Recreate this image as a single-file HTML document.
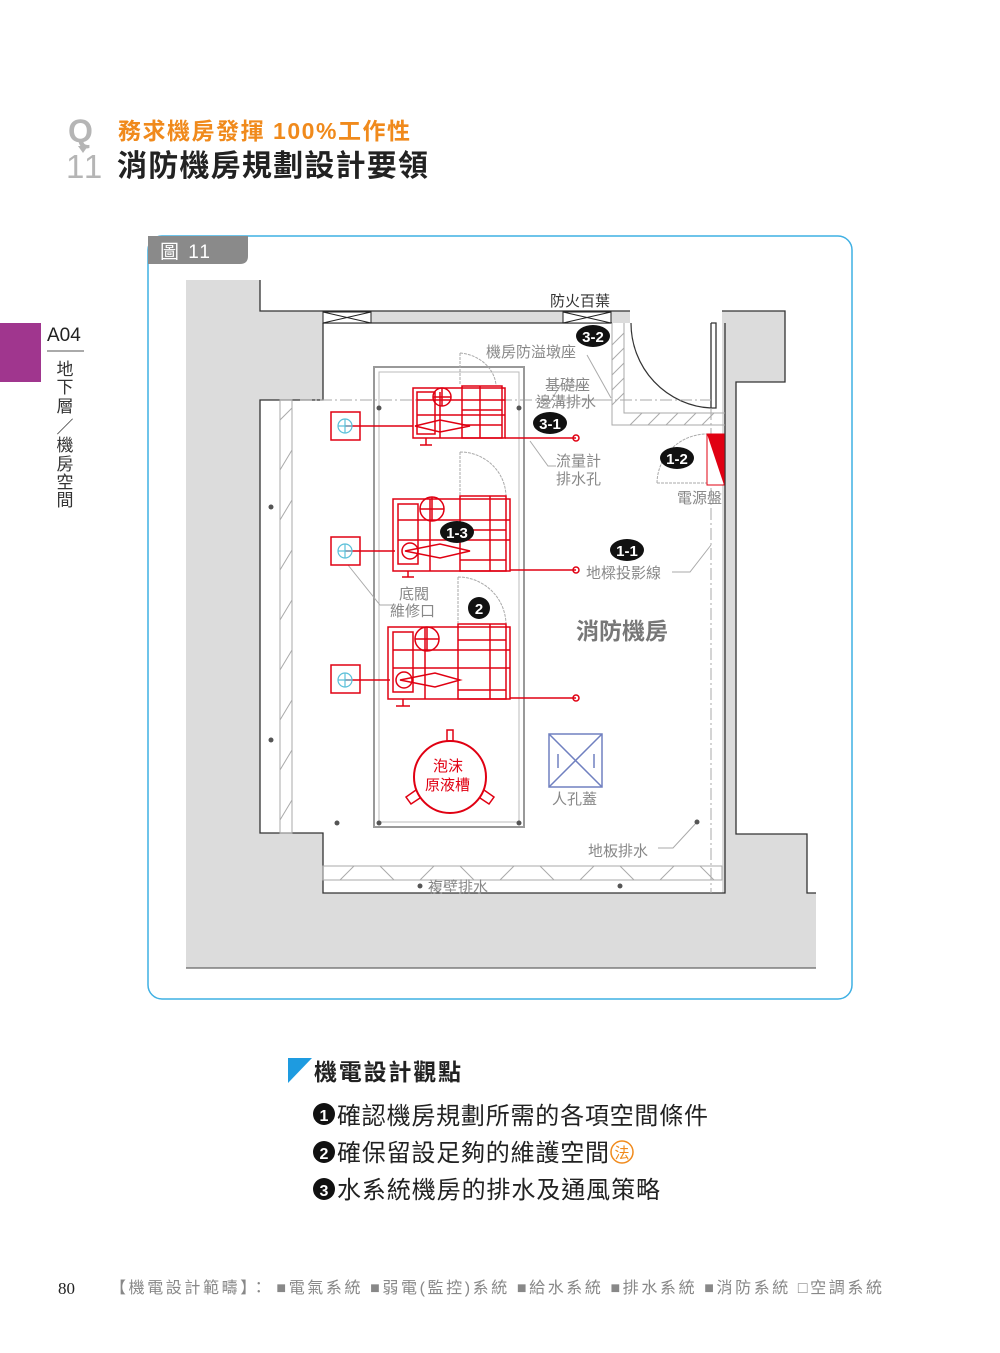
<!DOCTYPE html>
<html><head><meta charset="utf-8"><style>
body{margin:0;background:#fff;}
svg{display:block;font-family:"Liberation Sans","Noto Sans CJK TC",sans-serif;}
</style></head><body>
<svg width="1000" height="1353" viewBox="0 0 1000 1353" xmlns="http://www.w3.org/2000/svg">
<!-- header -->
<text x="68" y="142" font-size="32" font-weight="bold" fill="#b5b5b5">Q</text>
<polygon points="78,146 88,146 83,153" fill="#b5b5b5"/>
<text x="66" y="178" font-size="33" fill="#b5b5b5" letter-spacing="2">11</text>
<text x="118" y="139" font-size="23" font-weight="bold" fill="#f08a1c" textLength="292" lengthAdjust="spacing">務求機房發揮 100%工作性</text>
<text x="117" y="176" font-size="30" font-weight="bold" fill="#222" textLength="311" lengthAdjust="spacing">消防機房規劃設計要領</text>
<!-- side tab -->
<rect x="0" y="323" width="41" height="59" fill="#a0368e"/>
<text x="47" y="341" font-size="19" fill="#222">A04</text>
<line x1="47" y1="351" x2="84" y2="351" stroke="#555" stroke-width="1"/>
<g font-size="17" fill="#333" text-anchor="middle">
<text x="65" y="375">地</text><text x="65" y="393">下</text><text x="65" y="412">層</text>
<text x="65" y="433">／</text><text x="65" y="451">機</text><text x="65" y="470">房</text>
<text x="65" y="488">空</text><text x="65" y="506">間</text>
</g>
<!-- frame -->
<rect x="148" y="236" width="704" height="763" rx="14" fill="none" stroke="#3fb0e3" stroke-width="1.5"/>
<path d="M148,236 H248 V256 Q248,264 240,264 H148 Z" fill="#8a8a8a"/>
<text x="160" y="258" font-size="19" fill="#fff" letter-spacing="2">圖 11</text>
<!-- plan background -->
<rect x="186" y="280" width="630" height="688" fill="#dcdcdc"/>
<rect x="260" y="280" width="556" height="31" fill="#fff"/>
<rect x="785" y="311" width="31" height="71" fill="#fff"/>
<rect x="736" y="382" width="80" height="452" fill="#fff"/>
<rect x="807" y="834" width="9" height="59" fill="#fff"/>
<polygon points="323,323 722,323 722,893 323,893 323,833 260,833 260,400 323,400" fill="#fff"/>
<rect x="630" y="311" width="92" height="12" fill="#fff"/>
<!-- wall outlines -->
<g fill="none" stroke="#333" stroke-width="1.3">
<polyline points="260,280 260,311 630,311"/>
<polyline points="323,323 323,400 260,400 260,833 323,833 323,893 725,893 725,323"/>
<line x1="323" y1="323" x2="612" y2="323"/>
<polyline points="722,311 785,311 785,382 736,382 736,834 807,834 807,893 816,893"/>
<line x1="186" y1="968" x2="816" y2="968" stroke="#666"/>
<polyline points="711,323 711,408 716,408 716,323 711,323"/>
</g>
<!-- louvers -->
<g stroke="#222" stroke-width="1" fill="#fff">
<rect x="323" y="312" width="48" height="11"/><path d="M323,312 L371,323 M323,323 L371,312"/>
<rect x="563" y="312" width="48" height="11"/><path d="M563,312 L611,323 M563,323 L611,312"/>
</g>
<!-- door -->
<path d="M631,323 A84,85 0 0 0 711,408" fill="none" stroke="#333" stroke-width="1.2"/>
<!-- hatch L -->
<g stroke="#aaa" fill="none" stroke-width="1">
<polyline points="612,323 612,425 725,425"/><polyline points="624,323 624,413 725,413"/>
<path d="M612,345 L624,333 M612,360 L624,348 M612,375 L624,363 M612,390 L624,378 M612,405 L624,393 M630,425 L642,413 M648,425 L660,413 M666,425 L678,413 M684,425 L696,413 M702,425 L714,413"/>
<rect x="280" y="400" width="12" height="433"/>
<path d="M280,420 L292,408 M280,470 L292,450 M280,520 L292,500 M280,570 L292,550 M280,620 L292,600 M280,670 L292,650 M280,720 L292,700 M280,770 L292,750 M280,820 L292,800"/>
<rect x="323" y="866" width="399" height="14"/>
<path d="M340,880 L354,866 M380,866 L394,880 M420,880 L434,866 M460,866 L474,880 M500,880 L514,866 M540,866 L554,880 M580,880 L594,866 M620,866 L634,880 M660,880 L674,866 M700,866 L714,880"/>
<path d="M300,400 H711 M711,408 V893" stroke-dasharray="12,3,2,3"/>
<rect x="374" y="367" width="150" height="460" stroke="#999" stroke-width="2"/>
<rect x="379" y="372" width="140" height="450" stroke="#bbb"/>
<path d="M460,353 V385 M460,353 A40,35 0 0 1 496,385" stroke-dasharray="3,1"/>
<path d="M460,452 V495 M460,452 A46,45 0 0 1 506,497" stroke-dasharray="3,1"/>
<path d="M458,577 V623 M458,577 A48,48 0 0 1 506,625" stroke-dasharray="3,1"/>
<path d="M657,483 A50,50 0 0 1 707,434 M657,483 H707" stroke-dasharray="3,1"/>
<path d="M587,355 L611,398 M585,386 L560,386 L550,402 M603,400 L585,400 M530,441 L548,466 L556,466 M348,565 L380,605 L396,605 M672,572 L690,572 L711,545 M658,848 L673,848 L697,822"/>
</g>
<g fill="#555">
<circle cx="379" cy="408" r="2.5"/><circle cx="519" cy="408" r="2.5"/><circle cx="271" cy="507" r="2.5"/><circle cx="271" cy="740" r="2.5"/>
<circle cx="379" cy="823" r="2.5"/><circle cx="519" cy="823" r="2.5"/><circle cx="337" cy="823" r="2.5"/><circle cx="697" cy="822" r="2.5"/>
<circle cx="420" cy="886" r="2.5"/><circle cx="620" cy="886" r="2.5"/>
</g>
<rect x="707" y="434" width="17" height="51" fill="#fff" stroke="#e00012"/>
<polygon points="707,434 724,434 724,485" fill="#e00012"/>
<!-- pumps -->
<g stroke="#e00012" stroke-width="1.5" fill="none">
<rect x="331" y="412" width="29" height="28"/><rect x="331" y="537" width="29" height="28"/><rect x="331" y="665" width="29" height="28"/>
<line x1="345" y1="426" x2="413" y2="426"/><line x1="345" y1="551" x2="395" y2="551"/><line x1="345" y1="680" x2="390" y2="680"/>
<rect x="413" y="388" width="92" height="50"/><rect x="417" y="392" width="18" height="42"/><rect x="462" y="386" width="40" height="52"/>
<path d="M417,400 H505 M417,415 H505 M462,410 H502 M462,425 H502 M440,392 V438 M480,386 V438"/>
<circle cx="442" cy="397" r="9"/><path d="M433,397 H451 M442,388 V406"/>
<path d="M415,426 L440,420 L470,426 L440,432 Z"/><line x1="505" y1="438" x2="576" y2="438"/><circle cx="576" cy="438" r="3"/>
<rect x="393" y="499" width="117" height="72"/><rect x="398" y="504" width="20" height="60"/><rect x="460" y="496" width="46" height="75"/>
<path d="M398,520 H510 M398,540 H510 M460,530 H506 M460,560 H506 M430,499 V571 M490,496 V571"/>
<circle cx="432" cy="509" r="12"/><path d="M420,509 H444 M432,497 V521"/>
<path d="M405,551 L440,544 L470,551 L440,558 Z"/><circle cx="410" cy="551" r="8"/><line x1="510" y1="570" x2="576" y2="570"/><circle cx="576" cy="570" r="3"/>
<rect x="388" y="627" width="122" height="72"/><rect x="393" y="632" width="20" height="60"/><rect x="458" y="624" width="48" height="75"/>
<path d="M393,650 H510 M393,668 H510 M458,640 H506 M458,690 H506 M425,627 V699 M490,624 V699"/>
<circle cx="427" cy="639" r="12"/><path d="M415,639 H439 M427,627 V651"/>
<path d="M400,680 L435,673 L460,680 L435,687 Z"/><circle cx="404" cy="680" r="8"/><line x1="510" y1="698" x2="576" y2="698"/><circle cx="576" cy="698" r="3"/>
<path d="M420,445 H432 M426,438 V445 M402,577 H414 M408,571 V577 M396,706 H410 M403,699 V706"/>
<circle cx="450" cy="777" r="36" stroke-width="2"/><rect x="447" y="730" width="6" height="11"/>
<path d="M416,790 L406,797 L411,804 L420,798 M484,790 L494,797 L489,804 L480,798"/>
</g>
<g stroke="#5bc0d9" stroke-width="1.2" fill="none">
<circle cx="345" cy="426" r="7"/><path d="M338,426 H352 M345,419 V433"/>
<circle cx="345" cy="551" r="7"/><path d="M338,551 H352 M345,544 V558"/>
<circle cx="345" cy="680" r="7"/><path d="M338,680 H352 M345,673 V687"/>
</g>
<g stroke="#7080c0" stroke-width="1.5" fill="none">
<rect x="549" y="734" width="53" height="53"/><path d="M549,734 L602,787 M602,734 L549,787 M558,754 V768 M594,754 V768"/>
</g>
<g font-weight="bold" font-size="15" text-anchor="middle">
<ellipse cx="593" cy="336" rx="17" ry="11" fill="#111"/><text x="593" y="342" fill="#fff">3-2</text>
<ellipse cx="550" cy="423" rx="17" ry="11" fill="#111"/><text x="550" y="429" fill="#fff">3-1</text>
<ellipse cx="677" cy="458" rx="17" ry="11" fill="#111"/><text x="677" y="464" fill="#fff">1-2</text>
<ellipse cx="627" cy="550" rx="17" ry="11" fill="#111"/><text x="627" y="556" fill="#fff">1-1</text>
<ellipse cx="457" cy="532" rx="17" ry="11" fill="#111"/><text x="457" y="538" fill="#fff">1-3</text>
<circle cx="479" cy="608" r="11" fill="#111"/><text x="479" y="614" fill="#fff">2</text>
</g>
<g font-size="15" fill="#888">
<text x="550" y="306" fill="#333">防火百葉</text>
<text x="486" y="357">機房防溢墩座</text>
<text x="545" y="390">基礎座</text>
<text x="536" y="407">邊溝排水</text>
<text x="556" y="466">流量計</text>
<text x="556" y="484">排水孔</text>
<text x="677" y="503">電源盤</text>
<text x="586" y="578">地樑投影線</text>
<text x="399" y="599">底閥</text>
<text x="390" y="616">維修口</text>
<text x="552" y="804">人孔蓋</text>
<text x="588" y="856">地板排水</text>
<text x="428" y="892">複壁排水</text>
<text x="433" y="771" fill="#e00012">泡沫</text>
<text x="425" y="790" fill="#e00012">原液槽</text>
<text x="576" y="639" font-size="23" font-weight="bold" fill="#777">消防機房</text>
</g>
<!-- bottom section -->
<polygon points="288,1058 312,1058 288,1083" fill="#1e9be0"/>
<text x="314" y="1080" font-size="23" font-weight="bold" fill="#222" textLength="147" lengthAdjust="spacing">機電設計觀點</text>
<g font-size="24" fill="#222">
<circle cx="324" cy="1114" r="11" fill="#111"/><text x="324" y="1121" font-size="16" font-weight="bold" fill="#fff" text-anchor="middle">1</text>
<text x="337" y="1124" textLength="371" lengthAdjust="spacing">確認機房規劃所需的各項空間條件</text>
<circle cx="324" cy="1152" r="11" fill="#111"/><text x="324" y="1159" font-size="16" font-weight="bold" fill="#fff" text-anchor="middle">2</text>
<text x="337" y="1161" textLength="272" lengthAdjust="spacing">確保留設足夠的維護空間</text>
<circle cx="622" cy="1152" r="11" fill="none" stroke="#f08a1c" stroke-width="1.5"/><text x="622" y="1158" font-size="15" fill="#f08a1c" text-anchor="middle">法</text>
<circle cx="324" cy="1189" r="11" fill="#111"/><text x="324" y="1196" font-size="16" font-weight="bold" fill="#fff" text-anchor="middle">3</text>
<text x="337" y="1198" textLength="323" lengthAdjust="spacing">水系統機房的排水及通風策略</text>
</g>
<text x="58" y="1294" font-size="17" fill="#222" font-family="Liberation Serif, serif">80</text>
<text x="110" y="1293" font-size="16" fill="#888" textLength="772" lengthAdjust="spacing">【機電設計範疇】： ■電氣系統 ■弱電(監控)系統 ■給水系統 ■排水系統 ■消防系統 □空調系統</text>
</svg>
</body></html>
